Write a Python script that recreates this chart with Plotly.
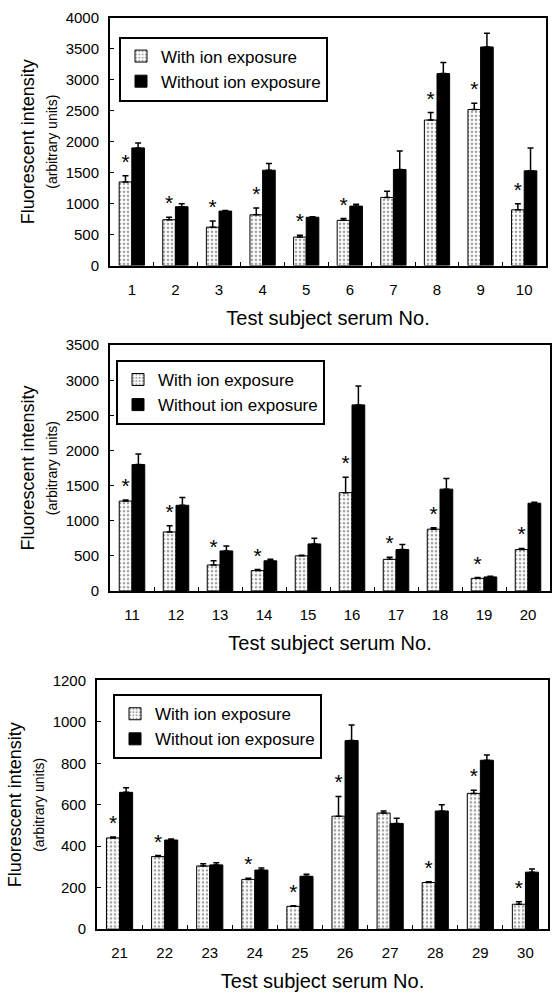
import plotly.graph_objects as go

# ---------------- data ----------------
subjects_1 = ["1", "2", "3", "4", "5", "6", "7", "8", "9", "10"]
with_1 = [1350, 740, 620, 820, 460, 730, 1100, 2350, 2520, 900]
with_err_1 = [100, 40, 100, 110, 30, 30, 100, 120, 100, 100]
without_1 = [1900, 950, 880, 1540, 780, 960, 1550, 3100, 3530, 1530]
without_err_1 = [80, 50, 10, 110, 10, 30, 300, 180, 220, 370]
sig_1 = [1, 1, 1, 1, 1, 1, 0, 1, 1, 1]

subjects_2 = ["11", "12", "13", "14", "15", "16", "17", "18", "19", "20"]
with_2 = [1280, 840, 370, 290, 500, 1400, 450, 880, 180, 590]
with_err_2 = [15, 90, 60, 15, 10, 220, 30, 20, 10, 15]
without_2 = [1800, 1220, 570, 430, 670, 2650, 590, 1450, 200, 1250]
without_err_2 = [150, 110, 70, 20, 80, 270, 70, 150, 10, 15]
sig_2 = [1, 1, 1, 1, 0, 1, 1, 1, 1, 1]

subjects_3 = ["21", "22", "23", "24", "25", "26", "27", "28", "29", "30"]
with_3 = [440, 350, 305, 240, 110, 545, 560, 225, 655, 120]
with_err_3 = [5, 5, 10, 5, 3, 95, 10, 4, 15, 12]
without_3 = [660, 430, 310, 285, 255, 910, 510, 570, 815, 275]
without_err_3 = [22, 5, 10, 10, 10, 75, 25, 30, 25, 15]
sig_3 = [1, 1, 0, 1, 1, 1, 0, 1, 1, 1]

y_max = [4000, 3500, 1200]
y_step = [500, 500, 200]

x_title = "Test subject serum No."
y_title = "Fluorescent intensity<br><span style='font-size:14px'>(arbitrary units)</span>"
name_with = "With ion exposure"
name_without = "Without ion exposure"

# ---------------- layout geometry (pixels) ----------------
W, H = 553, 1003
panels_px = [  # left, right, top, bottom
    (110, 546, 9, 261),
    (110, 550, 342, 592),
    (97, 548, 683, 936),
]
legend_px = [(119, 28), (116, 357), (113, 697)]

FONT = "Liberation Sans, Arial, sans-serif"

fig = go.Figure()

datasets = [
    (subjects_1, with_1, with_err_1, without_1, without_err_1, sig_1),
    (subjects_2, with_2, with_err_2, without_2, without_err_2, sig_2),
    (subjects_3, with_3, with_err_3, without_3, without_err_3, sig_3),
]

for i, (cats, w, we, wo, woe, sig) in enumerate(datasets):
    sfx = "" if i == 0 else str(i + 1)
    xa, ya = "x" + sfx, "y" + sfx
    leg = "legend" + sfx
    fig.add_trace(go.Bar(
        x=cats, y=w, name=name_with, xaxis=xa, yaxis=ya, legend=leg,
        offsetgroup="a",
        marker=dict(color="white", line=dict(color="black", width=1),
                    pattern=dict(shape=".", fgcolor="#444", bgcolor="white",
                                 size=4, solidity=0.35)),
        error_y=dict(type="data", symmetric=False, array=we,
                     arrayminus=[0] * len(we), color="black",
                     thickness=1.5, width=3),
    ))
    fig.add_trace(go.Bar(
        x=cats, y=wo, name=name_without, xaxis=xa, yaxis=ya, legend=leg,
        offsetgroup="b",
        marker=dict(color="black", line=dict(color="black", width=1)),
        error_y=dict(type="data", symmetric=False, array=woe,
                     arrayminus=[0] * len(woe), color="black",
                     thickness=1.5, width=3),
    ))
    # significance stars: invisible bars up to the top of the error bar
    tops = [a + b for a, b in zip(w, we)]
    fig.add_trace(go.Bar(
        x=cats, y=tops, xaxis=xa, yaxis=ya, offsetgroup="a",
        showlegend=False, hoverinfo="skip",
        marker=dict(color="rgba(0,0,0,0)", line=dict(width=0)),
        text=["*" if s else "" for s in sig],
        textposition="outside", cliponaxis=False,
        outsidetextfont=dict(size=21, color="black", family=FONT),
    ))

    l, r, t, b = panels_px[i]
    xdom = [l / W, r / W]
    ydom = [1 - b / H, 1 - t / H]
    axis_common = dict(showline=True, linecolor="black", linewidth=2,
                       mirror=True, color="black", showgrid=False,
                       zeroline=False)
    fig.layout["xaxis" + sfx] = dict(
        domain=xdom, anchor=ya, type="category",
        ticks="inside", tickson="boundaries", ticklen=4, tickcolor="black",
        tickfont=dict(size=15, family=FONT, color="black"),
        ticklabelstandoff=9,
        title=dict(text=x_title, font=dict(size=20, family=FONT, color="black"),
                   standoff=14),
        **axis_common)
    fig.layout["yaxis" + sfx] = dict(
        domain=ydom, anchor=xa, range=[0, y_max[i]], dtick=y_step[i],
        ticks="inside", ticklen=4, tickcolor="black",
        tickfont=dict(size=15, family=FONT, color="black"),
        ticklabelstandoff=6,
        title=dict(text=y_title, font=dict(size=18, family=FONT, color="black"),
                   standoff=3),
        **axis_common)
    lx, ly = legend_px[i]
    fig.layout[leg] = dict(
        x=lx / W, y=1 - ly / H, xanchor="left", yanchor="top",
        bgcolor="white", bordercolor="black", borderwidth=2,
        font=dict(size=17, family=FONT, color="black"),
        tracegroupgap=0, itemwidth=30,
    )

fig.update_layout(
    width=W, height=H, margin=dict(l=0, r=0, t=0, b=0),
    paper_bgcolor="white", plot_bgcolor="white",
    barmode="group", bargap=0.42, bargroupgap=0.0,
    font=dict(family=FONT, color="black"),
    showlegend=True,
)

fig.write_html("out.html")
